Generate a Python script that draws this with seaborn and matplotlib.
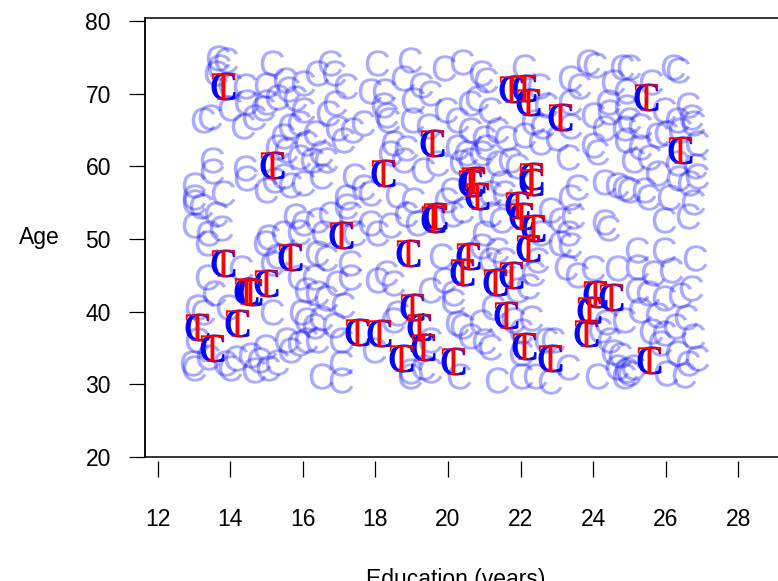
import matplotlib
matplotlib.use("Agg")
import matplotlib.pyplot as plt
from matplotlib.patches import Rectangle
import seaborn as sns

# light "C" points (education, age)
light_x = [13.67, 13.9, 13.7, 13.6, 15.15, 14.4, 14.0, 15.0, 15.5, 15.6, 16.0, 14.0, 14.45, 14.65,
           14.9, 15.0, 15.3, 15.8, 16.0, 13.26, 13.45, 14.35, 15.65, 15.45, 15.9, 15.3, 15.55, 15.9,
           16.1, 13.5, 13.5, 14.4, 14.45, 15.45, 15.65, 15.0, 15.2, 16.0, 13.8, 13.0, 13.0, 13.2,
           13.0, 13.6, 13.0, 13.4, 13.75, 15.8, 16.0, 15.05, 15.45, 15.9,
           13.35, 14.95, 15.3, 15.15, 14.3, 15.9, 16.1, 13.35, 13.55, 13.1, 13.25, 13.95, 15.15,
           15.95, 16.1, 13.1, 12.95, 13.0, 13.4, 13.85, 14.0, 14.15, 14.55, 14.65, 14.8, 14.95,
           15.05, 15.3, 15.65, 15.55, 15.9, 16.1,
           16.75, 16.4, 16.85, 17.2, 18.05, 18.95, 19.9, 20.4, 17.85, 18.25, 18.75, 19.25, 19.5,
           19.05, 16.9, 16.7, 18.2, 18.3, 18.35, 19.95, 20.25, 20.6, 19.0, 19.45, 17.65, 17.35,
           16.95, 17.1, 16.35, 16.5, 16.25, 16.65, 16.5, 18.5, 18.4, 18.85, 18.75, 20.25, 20.5,
           20.35, 19.3, 19.7, 17.4, 17.65, 17.85, 18.6, 19.05, 20.1, 19.95, 17.2, 17.2, 17.3,
           16.75, 16.4, 17.85, 18.05, 18.4, 18.85, 19.15, 20.1, 20.4, 17.4, 16.55,
           16.4, 16.65, 17.3, 17.3, 16.95, 16.3, 16.4, 16.65, 17.1, 16.5, 16.85, 16.3, 16.4,
           17.05, 17.05, 16.5, 17.05, 18.05, 18.3, 18.5, 19.8, 19.9, 19.5, 20.15, 20.15, 18.6,
           18.5, 19.5, 19.3, 18.95, 18.95, 19.5, 17.95, 20.4, 20.25, 20.3,
           22.1, 20.9, 21.05, 22.5, 23.35, 23.6, 23.85, 24.05, 24.8, 24.55, 24.9, 20.8, 21.15,
           22.7, 23.35, 24.0, 24.4, 24.45, 24.9, 23.35, 24.3, 24.85, 20.6, 21.0, 21.35, 21.6,
           22.1, 22.35, 22.6, 22.55, 23.0, 21.7, 21.9, 21.05, 20.9, 21.35, 20.6, 23.3, 24.0,
           24.1, 24.9, 21.45, 21.55, 21.15, 23.55, 23.35, 24.3, 24.65, 24.85, 22.8, 23.1, 23.45,
           24.3, 24.4, 21.0, 21.15, 21.45, 22.55, 23.3,
           20.9, 21.35, 21.55, 21.15, 22.45, 22.35, 22.2, 21.9, 23.1, 23.35, 23.25, 23.55, 24.0,
           24.65, 21.25, 20.9, 21.0, 21.15, 21.8, 22.3, 22.0, 22.7, 22.9, 22.0, 23.3, 21.35,
           22.0, 22.4, 22.8, 24.1, 24.35, 24.45, 24.55, 24.75, 24.65, 24.9, 24.85, 24.2, 24.85,
           20.6,
           26.2, 26.35, 25.0, 25.6, 25.95, 26.6, 26.7, 25.3, 25.0, 26.3, 26.4, 26.75, 25.75,
           26.0, 25.3, 25.55, 26.85, 25.1, 25.75, 26.3, 26.8, 26.35, 26.65, 26.85, 25.4, 25.5,
           26.1, 26.75, 26.6, 25.95, 25.0,
           25.2, 25.95, 26.8, 25.2, 25.65, 26.15, 26.7, 26.4, 25.2, 25.5, 25.95, 25.3, 25.75,
           26.25, 26.55, 25.6, 25.95, 26.75, 25.85, 26.3, 26.85, 26.6, 26.0, 26.5, 25.1, 25.0]
light_y = [74.87, 74.6, 73.7, 72.8, 74.2, 71.0, 71.2, 71.2, 71.9, 70.7, 71.4, 68.0, 68.9, 66.8,
           68.0, 68.9, 69.6, 69.4, 67.8, 66.4, 66.8, 65.5, 65.5, 64.1, 65.9, 62.7, 62.3, 61.3,
           63.2, 60.9, 59.3, 59.7, 58.4, 58.6, 57.4, 56.8, 58.1, 57.7, 56.3, 57.4, 55.8, 54.5,
           55.1, 53.5, 51.9, 50.8, 51.5, 53.1, 52.2, 50.3, 50.8, 51.0,
           49.4, 49.4, 47.6, 46.7, 46.0, 44.8, 43.0, 44.8, 42.5, 40.7, 40.0, 40.7, 40.0,
           40.0, 38.9, 36.1, 32.9, 32.2, 33.8, 32.9, 32.2, 33.6, 34.1, 32.0, 33.4, 35.2,
           32.2, 33.1, 34.75, 36.1, 35.7, 36.1,
           74.2, 72.8, 72.8, 71.0, 74.2, 74.6, 73.5, 74.4, 70.3, 70.3, 72.1, 71.2, 70.1,
           69.1, 68.7, 67.3, 68.45, 67.1, 66.4, 67.8, 66.4, 68.7, 66.4, 65.5, 65.9, 65.0,
           65.2, 63.6, 64.55, 61.8, 60.9, 60.9, 58.6, 63.2, 61.8, 62.5, 60.9, 62.7, 61.8,
           60.65, 59.5, 60.4, 58.6, 57.2, 56.3, 56.1, 55.4, 56.75, 55.4, 55.8, 54.5, 53.5,
           53.5, 52.6, 52.2, 50.8, 51.9, 53.5, 52.2, 53.5, 54.0, 50.8, 50.8,
           48.05, 47.4, 46.7, 44.8, 43.9, 44.8, 42.5, 41.85, 40.9, 39.1, 38.2, 38.0, 36.1,
           36.1, 32.9, 31.1, 30.6, 44.4, 45.3, 43.9, 47.6, 44.4, 43.0, 42.5, 41.4, 39.8,
           38.9, 36.1, 32.4, 31.8, 31.1, 32.0, 34.75, 38.0, 38.4, 31.1,
           73.7, 72.8, 71.9, 71.0, 72.1, 71.0, 74.4, 73.9, 73.7, 71.65, 70.3, 69.4, 67.8,
           68.45, 68.9, 67.1, 68.9, 67.5, 68.2, 65.5, 65.2, 65.2, 65.0, 63.9, 65.0, 63.9,
           64.3, 66.15, 65.5, 63.4, 63.9, 60.9, 60.0, 62.7, 61.8, 60.4, 60.9, 61.3, 62.9,
           62.0, 63.6, 57.7, 56.3, 56.3, 57.2, 55.8, 57.9, 57.4, 57.0, 54.0, 52.6, 53.1,
           52.4, 51.5, 50.8, 53.5, 52.6, 50.8, 50.8,
           49.0, 48.5, 47.1, 47.1, 47.1, 45.3, 43.5, 43.0, 49.4, 49.2, 46.2, 45.1, 46.0,
           46.0, 40.7, 38.6, 35.9, 35.2, 38.9, 39.1, 37.3, 36.1, 36.1, 34.3, 32.45, 30.6,
           31.1, 31.1, 30.4, 31.1, 38.6, 36.1, 34.5, 34.05, 32.45, 32.0, 31.1, 37.5, 38.9,
           36.6,
           73.7, 73.3, 73.7, 71.65, 67.8, 68.45, 66.8, 65.5, 66.4, 66.4, 65.0, 65.9, 64.3,
           64.55, 62.7, 61.3, 63.2, 60.9, 59.05, 60.4, 60.0, 58.4, 57.7, 58.6, 56.75, 55.8,
           55.8, 55.1, 53.1, 52.6, 56.75,
           48.5, 48.5, 47.4, 46.2, 45.3, 45.75, 43.2, 42.3, 43.0, 42.5, 41.85, 40.25, 39.55,
           38.0, 39.3, 37.3, 37.0, 36.6, 35.7, 34.3, 33.6, 32.9, 31.5, 31.3, 32.45, 31.5]

# highlighted points (dark C with red T)
hl_x = [13.8, 15.15, 13.8, 13.1, 13.5, 14.2, 14.45, 14.55, 15.0, 15.65, 17.05, 18.2, 17.5,
        18.1, 18.7, 18.9, 19.0, 19.2, 19.3, 19.55, 19.6, 19.65, 20.15, 20.4, 20.55, 20.6,
        20.7, 20.8, 21.3, 21.6, 21.75, 21.75, 22.1, 22.2, 21.9, 22.0, 22.3, 22.3, 22.35,
        22.2, 22.1, 22.8, 23.1, 23.8, 23.9, 24.05, 24.5, 25.45, 25.55, 26.4]
hl_y = [71.1, 60.2, 46.7, 37.9, 35.0, 38.5, 42.8, 42.7, 44.0, 47.5, 50.6, 59.05, 37.2,
        37.1, 33.6, 48.1, 40.7, 37.9, 35.2, 63.2, 52.8, 53.1, 33.2, 45.5, 47.6, 57.7,
        58.1, 55.9, 44.1, 39.5, 45.0, 70.7, 70.8, 68.9, 54.7, 53.1, 58.6, 57.8, 51.5,
        48.8, 35.3, 33.6, 66.8, 37.0, 40.2, 42.4, 42.0, 69.5, 33.3, 62.3]

sns.set_style("ticks")
plt.rcParams['font.family'] = ['Liberation Sans', 'DejaVu Sans']
plt.rcParams['mathtext.fontset'] = 'custom'
plt.rcParams['mathtext.rm'] = 'Liberation Serif'
plt.rcParams['mathtext.sf'] = 'Liberation Sans'
plt.rcParams['text.color'] = 'black'
plt.rcParams['axes.labelcolor'] = 'black'
plt.rcParams['xtick.color'] = 'black'
plt.rcParams['ytick.color'] = 'black'

fig = plt.figure(figsize=(7.78, 5.81), dpi=100)
ax = fig.add_axes([0.1864, 0.2134, 0.8326, 0.7556])

sns.scatterplot(x=light_x, y=light_y, marker=r"$\mathsf{C}$", s=19**2, color="blue",
                alpha=0.33, linewidth=0, ax=ax, clip_on=False)
sns.scatterplot(x=hl_x, y=hl_y, marker=r"$\mathrm{C}$", s=19.5**2, color="blue",
                edgecolor="blue", linewidth=0.7, ax=ax, clip_on=False)
sns.scatterplot(x=hl_x, y=hl_y, marker=r"$\mathrm{T}$", s=19**2, color="red",
                linewidth=0, ax=ax, clip_on=False)

ax.set_xlim(11.656, 29.5)
ax.set_ylim(20, 80.4)
ax.set_xticks(range(12, 29, 2))
ax.set_yticks(range(20, 81, 10))

# frame like R's box(), axis spines only carry ticks
for side in ['top', 'right', 'bottom', 'left']:
    ax.spines[side].set_visible(False)
ax.add_patch(Rectangle((0, 0), 1, 1, transform=ax.transAxes, fill=False,
                       edgecolor='black', linewidth=1.1, clip_on=False, zorder=5))
ax.spines['bottom'].set_visible(True)
ax.spines['bottom'].set_color('none')
ax.spines['bottom'].set_position(('outward', 3))
ax.spines['left'].set_visible(True)
ax.spines['left'].set_linewidth(1.1)

ax.tick_params(axis='x', direction='out', length=11.5, width=0.9, pad=22, labelsize=16.5)
ax.tick_params(axis='y', direction='out', length=11.5, width=0.9, pad=13, labelsize=16.5)

ax.set_ylabel('Age', rotation=0, fontsize=16.5, ha='right', va='center')
ax.yaxis.set_label_coords(-0.131, 0.5)
ax.set_xlabel('Education (years)', fontsize=16.5, ha='center', va='center')
ax.xaxis.set_label_coords(0.479, -0.28)

fig.savefig("out.png", dpi=100)
